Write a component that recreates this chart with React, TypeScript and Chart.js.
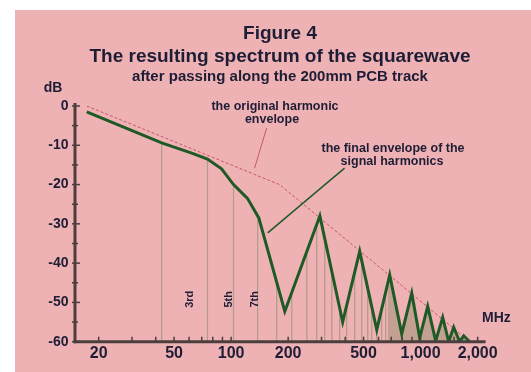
import React, { useEffect, useRef } from "react";
import { Chart, registerables } from "chart.js";

Chart.register(...registerables);

// ---------- data ----------
const envelopeFreqMHz = [17.3, 43, 62, 75, 89, 103, 122, 140, 192, 294, 388, 477, 587, 687, 795, 898, 989, 1090, 1201, 1308, 1407, 1495, 1608, 1689, 1816];
const envelopeDb = [-1.5, -9.4, -12, -13.5, -16, -20, -23.5, -28.5, -52.3, -28, -55, -37, -57, -43, -58, -47.6, -59, -51, -59.8, -53.8, -60, -56.3, -60, -58.5, -60];

const originalFreqMHz = [17.3, 180, 1816];
const originalDb = [0, -20, -60];

const harmonicFreqMHz = [43, 75, 103, 138, 174, 209, 251, 283, 312, 340, 374, 407, 449, 489, 526, 552, 587, 623, 654];
const harmonicTopDb = [-9.4, -13.5, -20, -27.7, -44.7, -47.4, -37, -30.1, -33.9, -42.1, -51.5, -50.8, -42.3, -39.4, -46.4, -51.1, -57, -51.6, -47.3];

// dense harmonics region (lines merge into a shaded area)
const denseFreqMHz = [670, 670, 687, 795, 898, 989, 1090, 1201, 1308, 1407, 1495, 1608, 1689, 1816];
const denseDb = [-60, -45, -43, -58, -47.6, -59, -51, -59.8, -53.8, -60, -56.3, -60, -58.5, -60];

// pointer lines for the annotations
const origPointerFreqMHz = [154, 133];
const origPointerDb = [-5.6, -15.8];
const finalPointerFreqMHz = [397, 156];
const finalPointerDb = [-15.8, -32.3];

// harmonic labels (rotated)
const harmonicLabels = ["3rd", "5th", "7th"];
const harmonicLabelFreqMHz = [60.5, 98, 133];
const harmonicLabelDb = -49.2;

// axes
const X_MIN = 15;
const X_MAX = 2150;
const Y_MIN = -60;
const Y_MAX = 0;
const xMajorTicks = [20, 50, 100, 200, 500, 1000, 2000];
const xTickLabels = ["20", "50", "100", "200", "500", "1,000", "2,000"];
const xMinorTicks = [30, 40, 60, 70, 80, 90, 300, 400, 600, 700, 800, 900, 1500];
const yMajorTicks = [0, -10, -20, -30, -40, -50, -60];
const yTickLabels = ["0", "-10", "-20", "-30", "-40", "-50", "-60"];
const yMinorTicks = [-5, -15, -25, -35, -45, -55];

// ---------- styles ----------
const PINK = "#efb2b4";
const GREEN = "#1f5a26";
const RED = "#c4586a";
const TAN_LINE = "#b39c8b";
const TAN_FILL = "#c2a193";
const AXIS = "#4a3e3e";
const TEXT = "#1d1d35";
const FONT = '"Liberation Sans", Arial, Helvetica, sans-serif';

const toXY = (xs: number[], ys: number[]) => xs.map((x, i) => ({ x, y: ys[i] }));

export default function App() {
  const ref = useRef<HTMLCanvasElement | null>(null);

  useEffect(() => {
    const canvas = ref.current;
    if (!canvas) return;

    const harmonicData: any[] = [];
    harmonicFreqMHz.forEach((f, i) => {
      harmonicData.push({ x: f, y: Y_MIN }, { x: f, y: harmonicTopDb[i] }, { x: f, y: null });
    });

    const overlay = {
      id: "overlay",
      afterDatasetsDraw(chart: any) {
        const { ctx, chartArea: a, scales } = chart;
        const xs = scales.x;
        const ys = scales.y;
        const yb = ys.getPixelForValue(Y_MIN);
        ctx.save();
        ctx.strokeStyle = AXIS;
        // x ticks (inside, above the axis)
        ctx.lineWidth = 1.5;
        [...xMajorTicks, ...xMinorTicks].forEach((v) => {
          const px = xs.getPixelForValue(v);
          ctx.beginPath();
          ctx.moveTo(px, yb - 5);
          ctx.lineTo(px, yb);
          ctx.stroke();
        });
        // y ticks
        yMajorTicks.forEach((v) => {
          const py = ys.getPixelForValue(v);
          ctx.beginPath();
          ctx.moveTo(a.left - 3, py);
          ctx.lineTo(a.left + 5, py);
          ctx.stroke();
        });
        yMinorTicks.forEach((v) => {
          const py = ys.getPixelForValue(v);
          ctx.beginPath();
          ctx.moveTo(a.left - 3, py);
          ctx.lineTo(a.left + 3, py);
          ctx.stroke();
        });
        // axis lines
        ctx.lineWidth = 3;
        ctx.beginPath();
        ctx.moveTo(a.left, ys.getPixelForValue(Y_MAX) - 3);
        ctx.lineTo(a.left, yb + 1.5);
        ctx.stroke();
        ctx.beginPath();
        ctx.moveTo(a.left - 1.5, yb);
        ctx.lineTo(a.right + 2, yb);
        ctx.stroke();
        ctx.restore();
      },
      afterDraw(chart: any) {
        const { ctx, chartArea: a, scales } = chart;
        const xs = scales.x;
        const ys = scales.y;
        const yb = ys.getPixelForValue(Y_MIN);
        ctx.save();
        ctx.fillStyle = TEXT;

        // titles
        ctx.textAlign = "center";
        ctx.textBaseline = "alphabetic";
        ctx.font = `bold 19px ${FONT}`;
        ctx.fillText("Figure 4", 265, 29);
        ctx.fillText("The resulting spectrum of the squarewave", 265, 52);
        ctx.font = `bold 15px ${FONT}`;
        ctx.fillText("after passing along the 200mm PCB track", 265, 71);

        // x tick labels
        ctx.font = `bold 16px ${FONT}`;
        ctx.textBaseline = "middle";
        xMajorTicks.forEach((v, i) => {
          ctx.fillText(xTickLabels[i], xs.getPixelForValue(v), yb + 12);
        });

        // y tick labels
        ctx.font = `bold 14px ${FONT}`;
        ctx.textAlign = "right";
        yMajorTicks.forEach((v, i) => {
          ctx.fillText(yTickLabels[i], a.left - 6.5, ys.getPixelForValue(v));
        });

        // axis units
        ctx.textAlign = "center";
        ctx.fillText("dB", 38, 78);
        ctx.textAlign = "left";
        ctx.fillText("MHz", 467, 308);

        // annotations
        ctx.font = `bold 12.5px ${FONT}`;
        ctx.textAlign = "center";
        ctx.textBaseline = "alphabetic";
        ctx.fillText("the original harmonic", 260, 99.5);
        ctx.fillText("envelope", 257, 112.5);
        ctx.fillText("the final envelope of the", 378, 142);
        ctx.fillText("signal harmonics", 377, 155);

        // rotated harmonic labels
        ctx.font = `bold 11px ${FONT}`;
        ctx.textBaseline = "middle";
        harmonicLabels.forEach((t, i) => {
          const px = xs.getPixelForValue(harmonicLabelFreqMHz[i]);
          const py = ys.getPixelForValue(harmonicLabelDb);
          ctx.save();
          ctx.translate(px, py);
          ctx.rotate(-Math.PI / 2);
          ctx.fillText(t, 0, 0);
          ctx.restore();
        });
        ctx.restore();
      },
    };

    const chart = new Chart(canvas, {
      type: "line",
      data: {
        datasets: [
          {
            label: "final envelope",
            data: toXY(envelopeFreqMHz, envelopeDb),
            borderColor: GREEN,
            borderWidth: 3,
            borderJoinStyle: "miter",
            pointRadius: 0,
            fill: false,
          },
          {
            label: "final pointer",
            data: toXY(finalPointerFreqMHz, finalPointerDb),
            borderColor: GREEN,
            borderWidth: 1.5,
            pointRadius: 0,
            fill: false,
          },
          {
            label: "original envelope",
            data: toXY(originalFreqMHz, originalDb),
            borderColor: RED,
            borderWidth: 1,
            borderDash: [3, 2],
            pointRadius: 0,
            fill: false,
          },
          {
            label: "original pointer",
            data: toXY(origPointerFreqMHz, origPointerDb),
            borderColor: RED,
            borderWidth: 1,
            pointRadius: 0,
            fill: false,
          },
          {
            label: "harmonics",
            data: harmonicData,
            borderColor: TAN_LINE,
            borderWidth: 1.3,
            pointRadius: 0,
            spanGaps: false,
            fill: false,
          },
          {
            label: "dense harmonics",
            data: toXY(denseFreqMHz, denseDb),
            borderColor: TAN_FILL,
            borderWidth: 0,
            backgroundColor: TAN_FILL,
            pointRadius: 0,
            fill: "start",
          },
        ],
      } as any,
      options: {
        animation: false,
        responsive: false,
        maintainAspectRatio: false,
        devicePixelRatio: 1,
        layout: { padding: { left: 60, top: 96, right: 47.4, bottom: 30.3 } },
        scales: {
          x: { type: "logarithmic", min: X_MIN, max: X_MAX, display: false },
          y: { type: "linear", min: Y_MIN, max: Y_MAX, display: false },
        },
        plugins: {
          legend: { display: false },
          tooltip: { enabled: false },
          title: { display: false },
        },
        elements: { line: { tension: 0 }, point: { radius: 0 } },
      } as any,
      plugins: [overlay],
    });

    return () => chart.destroy();
  }, []);

  return (
    <div
      style={{
        position: "absolute",
        left: 0,
        top: 0,
        width: 531,
        height: 372,
        background: "#ffffff",
        overflow: "hidden",
      }}
    >
      <div
        style={{
          position: "absolute",
          left: 15,
          top: 10,
          width: 516,
          height: 362,
          background: PINK,
        }}
      >
        <canvas ref={ref} width={516} height={362} style={{ display: "block", width: 516, height: 362 }} />
      </div>
    </div>
  );
}
